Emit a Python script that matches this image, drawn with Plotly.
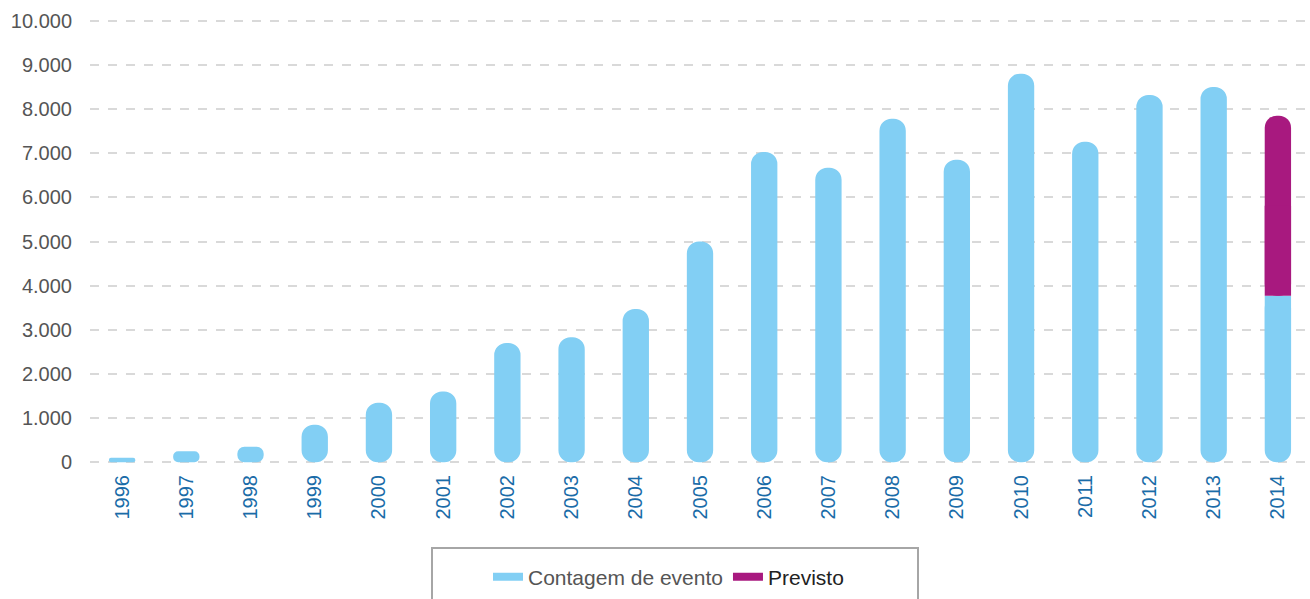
import plotly.graph_objects as go

years = [str(y) for y in range(1996, 2015)]
contagem = [100, 250, 350, 850, 1350, 1600, 2700, 2830, 3470, 5000,
            7030, 6670, 7780, 6850, 8800, 7260, 8320, 8500, 3770]
previsto = [None] * 18 + [4080]
y_ticks = list(range(0, 10001, 1000))
y_labels = ["0", "1.000", "2.000", "3.000", "4.000", "5.000", "6.000",
            "7.000", "8.000", "9.000", "10.000"]

BLUE = "#82CFF4"
PURPLE = "#A8197F"
RADIUS = 12
BW = 0.41

has_prev = [p is not None for p in previsto]
zeros = [0] * len(contagem)
# flat-top patch for Contagem where Previsto is stacked on it
patch_c_base = [c / 2 if h else None for c, h in zip(contagem, has_prev)]
patch_c_len = [c / 2 if h else None for c, h in zip(contagem, has_prev)]
# Previsto segment (stacked on Contagem) and its flat-bottom patch
prev_base = [c if h else None for c, h in zip(contagem, has_prev)]
patch_p_len = [p / 2 if p is not None else None for p in previsto]

fig = go.Figure()
fig.add_trace(go.Bar(x=years, y=contagem, base=zeros, width=BW,
                     marker=dict(color=BLUE, cornerradius=RADIUS, line_width=0),
                     showlegend=False, hoverinfo="skip"))
fig.add_trace(go.Bar(x=years, y=patch_c_len, base=patch_c_base, width=BW,
                     marker=dict(color=BLUE, line_width=0),
                     showlegend=False, hoverinfo="skip"))
fig.add_trace(go.Bar(x=years, y=previsto, base=prev_base, width=BW,
                     marker=dict(color=PURPLE, cornerradius=RADIUS, line_width=0),
                     showlegend=False, hoverinfo="skip"))
fig.add_trace(go.Bar(x=years, y=patch_p_len, base=prev_base, width=BW,
                     marker=dict(color=PURPLE, line_width=0),
                     showlegend=False, hoverinfo="skip"))

# legend entries
fig.add_trace(go.Scatter(x=[None], y=[None], mode="lines",
                         line=dict(color=BLUE, width=8),
                         name="Contagem de evento"))
fig.add_trace(go.Scatter(x=[None], y=[None], mode="lines",
                         line=dict(color=PURPLE, width=8),
                         name="<span style='color:#222222'>Previsto</span>"))

fig.update_layout(
    width=1310, height=599,
    margin=dict(l=90, r=0, t=19, b=135),
    paper_bgcolor="white", plot_bgcolor="white",
    barmode="overlay",
    font=dict(family="Liberation Sans, Arial, sans-serif", color="#555555"),
    showlegend=True,
    legend=dict(orientation="h", x=(488 - 90) / 1220, xanchor="left",
                y=(464 - 577) / 445, yanchor="middle",
                font=dict(size=21, color="#555555"),
                bgcolor="rgba(0,0,0,0)", borderwidth=0),
    shapes=[dict(type="rect", xref="paper", yref="paper",
                 x0=(432 - 90) / 1220, x1=(918 - 90) / 1220,
                 y0=(464 - 548) / 445, y1=(464 - 620) / 445,
                 line=dict(color="#A6A6A6", width=2), fillcolor="rgba(0,0,0,0)",
                 layer="above")],
)
fig.update_xaxes(type="category", tickangle=-90, showgrid=False, zeroline=False,
                 showline=False, ticks="",
                 tickfont=dict(size=20, color="#1A6CA8"), ticklabelstandoff=6)
fig.update_yaxes(range=[-40, 10040], tickvals=y_ticks, ticktext=y_labels,
                 showgrid=True, gridcolor="#D9D9D9", griddash="dash", gridwidth=1.5,
                 zeroline=False, showline=False, ticks="",
                 tickfont=dict(size=20, color="#555555"), ticklabelstandoff=17)

fig.write_html("out.html")
